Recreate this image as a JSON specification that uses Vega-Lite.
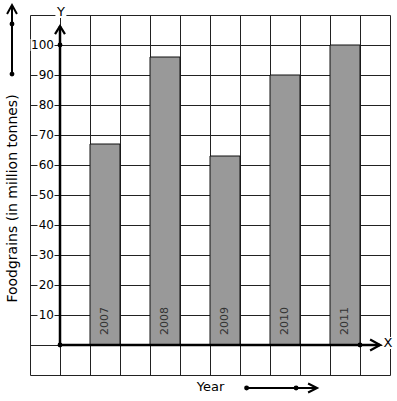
{
  "$schema": "https://vega.github.io/schema/vega-lite/v6.json",
  "width": 360,
  "height": 360,
  "autosize": {"type": "none"},
  "padding": {"left": 30, "top": 15, "right": 7, "bottom": 26},
  "background": "white",
  "config": {"view": {"stroke": null}, "font": "DejaVu Sans", "scale": {"continuousPadding": 0}},
  "data": {"values": [{}]},
  "datasets": {
    "foodgrains": [
      {"year": "2007", "slot": 1.5, "value": 67},
      {"year": "2008", "slot": 3.5, "value": 96},
      {"year": "2009", "slot": 5.5, "value": 63},
      {"year": "2010", "slot": 7.5, "value": 90},
      {"year": "2011", "slot": 9.5, "value": 100}
    ],
    "yticks": [
      {"v": 10}, {"v": 20}, {"v": 30}, {"v": 40}, {"v": 50},
      {"v": 60}, {"v": 70}, {"v": 80}, {"v": 90}, {"v": 100}
    ]
  },
  "layer": [
    {
      "data": {"name": "foodgrains"},
      "mark": {"type": "bar", "width": 30, "fill": "#999999", "stroke": "#111111", "strokeWidth": 1},
      "encoding": {
        "x": {
          "field": "slot", "type": "quantitative",
          "scale": {"domain": [-1, 11], "nice": false, "zero": false, "padding": 0},
          "axis": {
            "values": [-1, 0, 1, 2, 3, 4, 5, 6, 7, 8, 9, 10, 11],
            "tickCount": 13,
            "grid": true, "gridColor": "#222222", "gridWidth": 1, "gridOpacity": 1,
            "domain": false, "ticks": false, "labels": false,
            "title": "Year", "titleFont": "DejaVu Sans", "titleFontSize": 13, "titleFontWeight": "normal",
            "titleColor": "#000000", "titleX": 180, "titleY": 11, "titleBaseline": "middle", "titleAlign": "center"
          }
        },
        "y": {
          "field": "value", "type": "quantitative",
          "scale": {"domain": [-10, 110], "nice": false, "zero": false, "padding": 0},
          "axis": {
            "values": [-10, 0, 10, 20, 30, 40, 50, 60, 70, 80, 90, 100, 110],
            "tickCount": 13,
            "grid": true, "gridColor": "#222222", "gridWidth": 1, "gridOpacity": 1,
            "domain": false, "ticks": false, "labels": false,
            "title": "Foodgrains (in million tonnes)", "titleFont": "DejaVu Sans", "titleFontSize": 14, "titleFontWeight": "normal",
            "titleColor": "#000000", "titleX": -18, "titleY": 183, "titleAngle": 270, "titleBaseline": "middle", "titleAlign": "center"
          }
        },
        "y2": {"datum": 0}
      }
    },
    {
      "data": {"name": "foodgrains"},
      "mark": {"type": "text", "angle": 270, "align": "left", "baseline": "middle", "fontSize": 11, "color": "#333333", "font": "DejaVu Sans"},
      "encoding": {
        "x": {"field": "slot", "type": "quantitative"},
        "y": {"datum": 3.3},
        "text": {"field": "year"}
      }
    },
    {
      "mark": {"type": "rule", "stroke": "#000000", "strokeWidth": 2.5},
      "encoding": {"x": {"datum": 0}, "y": {"datum": 0}, "y2": {"datum": 106.3}}
    },
    {
      "mark": {"type": "rule", "stroke": "#000000", "strokeWidth": 2.5},
      "encoding": {"x": {"datum": 0}, "x2": {"datum": 10.67}, "y": {"datum": 0}}
    },
    {
      "mark": {"type": "rule", "stroke": "#000000", "strokeWidth": 2},
      "encoding": {"x": {"datum": -1.6}, "y": {"datum": 90.3}, "y2": {"datum": 113.3}}
    },
    {
      "mark": {"type": "rule", "stroke": "#000000", "strokeWidth": 2},
      "encoding": {"x": {"datum": 6.22}, "x2": {"datum": 8.57}, "y": {"datum": -14.33}}
    },
    {
      "mark": {"type": "point", "shape": "M-0.62,1L0,0L0.62,1", "size": 256, "filled": false, "stroke": "#000000", "strokeWidth": 2.2, "opacity": 1},
      "encoding": {"x": {"datum": 0}, "y": {"datum": 106.3}}
    },
    {
      "mark": {"type": "point", "shape": "M-1,-0.55L0,0L-1,0.55", "size": 400, "filled": false, "stroke": "#000000", "strokeWidth": 2.2, "opacity": 1},
      "encoding": {"x": {"datum": 10.67}, "y": {"datum": 0}}
    },
    {
      "mark": {"type": "point", "shape": "M-0.55,1L0,0L0.55,1", "size": 324, "filled": false, "stroke": "#000000", "strokeWidth": 2, "opacity": 1},
      "encoding": {"x": {"datum": -1.6}, "y": {"datum": 113.3}}
    },
    {
      "mark": {"type": "point", "shape": "M-1,-0.5L0,0L-1,0.5", "size": 324, "filled": false, "stroke": "#000000", "strokeWidth": 2, "opacity": 1},
      "encoding": {"x": {"datum": 8.57}, "y": {"datum": -14.33}}
    },
    {
      "mark": {"type": "point", "shape": "circle", "size": 24, "filled": true, "color": "#000000", "opacity": 1},
      "encoding": {"x": {"datum": 0}, "y": {"datum": 0}}
    },
    {
      "mark": {"type": "point", "shape": "circle", "size": 24, "filled": true, "color": "#000000", "opacity": 1},
      "encoding": {"x": {"datum": 0}, "y": {"datum": 100}}
    },
    {
      "mark": {"type": "point", "shape": "circle", "size": 24, "filled": true, "color": "#000000", "opacity": 1},
      "encoding": {"x": {"datum": 10}, "y": {"datum": 0}}
    },
    {
      "mark": {"type": "point", "shape": "circle", "size": 24, "filled": true, "color": "#000000", "opacity": 1},
      "encoding": {"x": {"datum": -1.6}, "y": {"datum": 107}}
    },
    {
      "mark": {"type": "point", "shape": "circle", "size": 24, "filled": true, "color": "#000000", "opacity": 1},
      "encoding": {"x": {"datum": -1.6}, "y": {"datum": 90.3}}
    },
    {
      "mark": {"type": "point", "shape": "circle", "size": 24, "filled": true, "color": "#000000", "opacity": 1},
      "encoding": {"x": {"datum": 6.22}, "y": {"datum": -14.33}}
    },
    {
      "mark": {"type": "point", "shape": "circle", "size": 24, "filled": true, "color": "#000000", "opacity": 1},
      "encoding": {"x": {"datum": 7.87}, "y": {"datum": -14.33}}
    },
    {
      "data": {"name": "yticks"},
      "transform": [{"filter": "datum.v < 100"}],
      "mark": {"type": "tick", "orient": "horizontal", "size": 17, "thickness": 12, "color": "#ffffff", "opacity": 1},
      "encoding": {"x": {"datum": -0.467}, "y": {"field": "v", "type": "quantitative"}}
    },
    {
      "data": {"name": "yticks"},
      "transform": [{"filter": "datum.v >= 100"}],
      "mark": {"type": "tick", "orient": "horizontal", "size": 24, "thickness": 12, "color": "#ffffff", "opacity": 1},
      "encoding": {"x": {"datum": -0.583}, "y": {"field": "v", "type": "quantitative"}}
    },
    {
      "mark": {"type": "tick", "orient": "horizontal", "size": 11, "thickness": 12, "color": "#ffffff", "opacity": 1},
      "encoding": {"x": {"datum": 0.03}, "y": {"datum": 111}}
    },
    {
      "mark": {"type": "tick", "orient": "horizontal", "size": 11, "thickness": 12, "color": "#ffffff", "opacity": 1},
      "encoding": {"x": {"datum": 10.93}, "y": {"datum": 0.67}}
    },
    {
      "data": {"name": "yticks"},
      "mark": {"type": "text", "align": "right", "baseline": "middle", "fontSize": 12, "color": "#000000", "font": "DejaVu Sans"},
      "encoding": {
        "x": {"datum": -0.2},
        "y": {"field": "v", "type": "quantitative"},
        "text": {"field": "v", "type": "quantitative"}
      }
    },
    {
      "mark": {"type": "text", "align": "center", "baseline": "middle", "fontSize": 13, "color": "#000000", "font": "DejaVu Sans", "text": "Y"},
      "encoding": {"x": {"datum": 0.03}, "y": {"datum": 111}}
    },
    {
      "mark": {"type": "text", "align": "center", "baseline": "middle", "fontSize": 13, "color": "#000000", "font": "DejaVu Sans", "text": "X"},
      "encoding": {"x": {"datum": 10.93}, "y": {"datum": 0.67}}
    }
  ]
}
